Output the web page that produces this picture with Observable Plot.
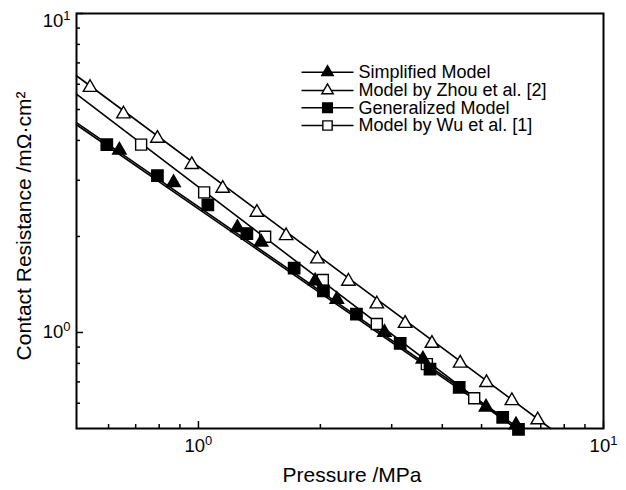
<!DOCTYPE html>
<html>
<head>
<meta charset="utf-8">
<script src="https://cdn.jsdelivr.net/npm/d3@7"></script>
<script src="https://cdn.jsdelivr.net/npm/@observablehq/plot@0.6"></script>
<style>
  html, body { margin: 0; padding: 0; background: #fff; }
  #chart { width: 626px; height: 490px; }
</style>
</head>
<body>
<div id="chart"></div>
<script>
// ---- Data ----
// Markers: pressure (MPa) and contact resistance (mΩ·cm²)
const simplifiedP = [0.638, 0.868, 1.248, 1.428, 1.942, 2.196, 2.879, 3.582, 5.128, 6.081];
const simplifiedR = [3.73, 2.95, 2.13, 1.92, 1.45, 1.27, 1.00, 0.825, 0.583, 0.513];

const zhouP = [0.540, 0.653, 0.792, 0.963, 1.148, 1.394, 1.646, 1.967, 2.346, 2.757, 3.238, 3.771, 4.428, 5.142, 5.940, 6.88];
const zhouR = [5.86, 4.84, 4.06, 3.36, 2.83, 2.38, 2.01, 1.70, 1.447, 1.228, 1.067, 0.924, 0.801, 0.696, 0.611, 0.532];

const generalizedP = [0.594, 0.792, 1.055, 1.317, 1.723, 2.035, 2.455, 3.148, 3.73, 4.403, 5.638, 6.168];
const generalizedR = [3.88, 3.10, 2.51, 2.043, 1.592, 1.351, 1.142, 0.924, 0.768, 0.673, 0.542, 0.497];

const wuP = [0.722, 1.033, 1.461, 2.028, 2.757, 3.664, 4.795];
const wuR = [3.88, 2.75, 1.995, 1.46, 1.063, 0.796, 0.622];

// Model lines: values where each line meets the frame (left edge / bottom edge)
const simplifiedLineP = [0.5, 6.2];
const simplifiedLineR = [4.55, 0.5];
const zhouLineP = [0.5, 7.4];
const zhouLineR = [6.38, 0.5];
const generalizedLineP = [0.5, 6.1];
const generalizedLineR = [4.48, 0.5];
const wuLineP = [0.5, 6.07];
const wuLineR = [5.59, 0.5];

const seriesNames = ["Simplified Model", "Model by Zhou et al. [2]", "Generalized Model", "Model by Wu et al. [1]"];

// Axes
const xDomain = [0.5, 10];
const yDomain = [0.5, 10];
const xMajorTicks = [1, 10];
const xMinorTicks = [0.6, 0.7, 0.8, 0.9, 2, 3, 4, 5, 6, 7, 8, 9];
const yMajorTicks = [1, 10];
const yMinorTicks = [0.6, 0.7, 0.8, 0.9, 2, 3, 4, 5, 6, 7, 8, 9];
const xTitle = "Pressure /MPa";
const yTitle = "Contact Resistance /mΩ·cm²";

// ---- Layout / style ----
const W = 626, H = 490;
const mL = 76, mR = 23, mT = 13, mB = 62;
const plotW = W - mL - mR, plotH = H - mT - mB;
const font = "'Liberation Sans', Arial, Helvetica, sans-serif";

const styles = [
  {symbol: "triangle", fill: "black", r: 5.0},
  {symbol: "triangle", fill: "white", r: 5.0},
  {symbol: "square", fill: "black", r: 6.4},
  {symbol: "square", fill: "white", r: 6.2}
];

const series = [
  {P: simplifiedP, R: simplifiedR, LP: simplifiedLineP, LR: simplifiedLineR},
  {P: zhouP, R: zhouR, LP: zhouLineP, LR: zhouLineR},
  {P: generalizedP, R: generalizedR, LP: generalizedLineP, LR: generalizedLineR},
  {P: wuP, R: wuR, LP: wuLineP, LR: wuLineR}
].map((s, k) => ({...s, name: seriesNames[k], ...styles[k]}));

const toRows = (P, R, name) => P.map((p, i) => ({p, r: R[i], name}));

const lineMarks = series.map(s =>
  Plot.line(toRows(s.LP, s.LR, s.name), {x: "p", y: "r", stroke: "black", strokeWidth: 1.6})
);
const drawOrder = [1, 3, 0, 2];
const dotMarks = drawOrder.map(k => {
  const s = series[k];
  return Plot.dot(toRows(s.P, s.R, s.name), {
    x: "p", y: "r", symbol: s.symbol, r: s.r, fill: s.fill, stroke: "black", strokeWidth: 1.4
  });
});

// Legend (inside the frame, top right)
const legendLine = {draw(context) { context.moveTo(-26, 0); context.lineTo(26, 0); }};
const legendRowDy = [58.7, 77, 94.3, 112];
const legendMarks = series.flatMap((s, i) => [
  Plot.dot([s.name], {frameAnchor: "top-left", dx: 251, dy: legendRowDy[i], symbol: legendLine, stroke: "black", strokeWidth: 1.6, fill: "none"}),
  Plot.dot([s.name], {frameAnchor: "top-left", dx: 251, dy: legendRowDy[i], symbol: s.symbol, r: s.r * 0.85, fill: s.fill, stroke: "black", strokeWidth: 1.4}),
  Plot.text([s.name], {frameAnchor: "top-left", dx: 282, dy: legendRowDy[i], text: d => d, textAnchor: "start", lineAnchor: "middle", fontSize: 18})
]);

const fmt = d => "10^" + Math.round(Math.log10(d));

const chart = Plot.plot({
  width: W,
  height: H,
  marginLeft: mL,
  marginRight: mR,
  marginTop: mT,
  marginBottom: mB,
  style: {fontFamily: font, fontSize: "18px", background: "white", color: "black"},
  x: {type: "log", domain: xDomain},
  y: {type: "log", domain: yDomain},
  marks: [
    // inward ticks
    Plot.tickX(xMinorTicks, {x: d => d, insetTop: plotH - 4, stroke: "black", strokeWidth: 1.5}),
    Plot.tickX(xMajorTicks, {x: d => d, insetTop: plotH - 7, stroke: "black", strokeWidth: 1.5}),
    Plot.tickY(yMinorTicks, {y: d => d, insetRight: plotW - 4, stroke: "black", strokeWidth: 1.5}),
    Plot.tickY(yMajorTicks, {y: d => d, insetRight: plotW - 7, stroke: "black", strokeWidth: 1.5}),
    // tick labels
    Plot.axisX(xMajorTicks, {tickSize: 0, tickPadding: 10, tickFormat: fmt, label: null, fontSize: 18}),
    Plot.axisY([1], {tickSize: 0, tickPadding: 6, tickFormat: fmt, label: null, fontSize: 18}),
    Plot.axisY([10], {tickSize: 0, tickPadding: 6, tickFormat: fmt, label: null, fontSize: 18, dy: 8}),
    // axis titles
    Plot.text([xTitle], {frameAnchor: "bottom", dx: 12, dy: 47, text: d => d, textAnchor: "middle", lineAnchor: "middle", fontSize: 21}),
    Plot.text([yTitle], {frameAnchor: "left", dx: -52, dy: 5, rotate: -90, text: d => d, textAnchor: "middle", lineAnchor: "middle", fontSize: 21}),
    ...lineMarks,
    ...dotMarks,
    ...legendMarks,
    Plot.frame({stroke: "black", strokeWidth: 2})
  ]
});

// superscript exponents in tick labels
d3.select(chart).selectAll('g[aria-label$="tick label"] text').each(function () {
  const m = this.textContent.match(/^10\^(-?\d+)$/);
  if (m) {
    this.textContent = "10";
    d3.select(this).style("font-size", "18.5px");
    d3.select(this).append("tspan").attr("dy", "-7").style("font-size", "13px").text(m[1]);
  }
});

document.getElementById("chart").appendChild(chart);
</script>
</body>
</html>
